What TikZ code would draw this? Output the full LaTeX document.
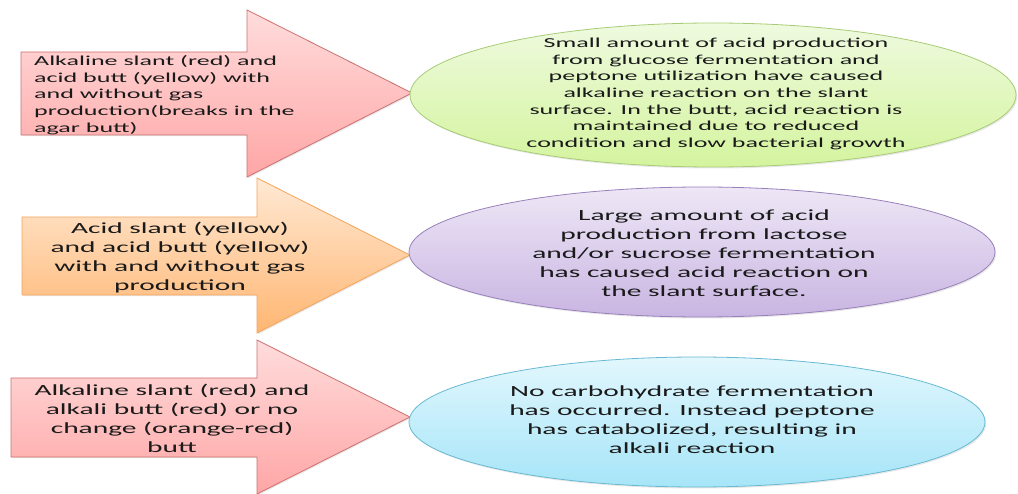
\documentclass[tikz,border=0pt]{standalone}
\usepackage{fontspec}
\setmainfont{Carlito}[FakeStretch=1.9]
\usetikzlibrary{shapes.geometric,shadows}
\definecolor{txt}{HTML}{1A1A1A}
\definecolor{pinkT}{HTML}{FFDCDC}
\definecolor{pinkB}{HTML}{FFA6A6}
\definecolor{pinkD}{HTML}{CC7070}
\definecolor{orT}{HTML}{FFE9D4}
\definecolor{orB}{HTML}{FFB672}
\definecolor{orD}{HTML}{F2A55E}
\definecolor{grT}{HTML}{EFFADF}
\definecolor{grB}{HTML}{D4F49E}
\definecolor{grD}{HTML}{A8CB76}
\definecolor{puT}{HTML}{EEE7F6}
\definecolor{puB}{HTML}{C9B5E2}
\definecolor{puD}{HTML}{9880BA}
\definecolor{blT}{HTML}{E2F7FD}
\definecolor{blB}{HTML}{A6E5F8}
\definecolor{blD}{HTML}{68BAD2}
\tikzset{
  arrowshape/.style={draw=#1D, top color=#1T, bottom color=#1B, line width=0.8pt, line join=miter,
    drop shadow={opacity=0.18, shadow xshift=1.2pt, shadow yshift=-1.2pt}},
  ellshape/.style={ellipse, draw=#1D, top color=#1T, bottom color=#1B, line width=0.8pt, inner sep=0pt,
    drop shadow={opacity=0.18, shadow xshift=1.2pt, shadow yshift=-1.5pt}},
  smalltxt/.style={text=txt, font=\fontsize{13.7}{16.7}\selectfont},
  bigtxt/.style={text=txt, font=\fontsize{15.5}{19}\selectfont},
}
\begin{document}
\begin{tikzpicture}[x=1pt,y=1pt]
\useasboundingbox (0,0) rectangle (1018,-494);
% arrows
\path[arrowshape=pink] (21,-52) -- (247,-52) -- (247,-10) -- (412,-93) -- (247,-177) -- (247,-135) -- (21,-135) -- cycle;
\path[arrowshape=or] (22,-217) -- (257,-217) -- (257,-178) -- (410,-255) -- (257,-333) -- (257,-295) -- (22,-295) -- cycle;
\path[arrowshape=pink] (11,-378) -- (257,-378) -- (257,-340) -- (410,-417) -- (257,-494) -- (257,-457) -- (11,-457) -- cycle;
% ellipses
\node[ellshape=gr, minimum width=606, minimum height=144] (e1) at (713,-95) {};
\node[ellshape=pu, minimum width=586, minimum height=130] (e2) at (702,-252) {};
\node[ellshape=bl, minimum width=576, minimum height=130] (e3) at (697,-422) {};
% arrow texts
\node[smalltxt, anchor=west, align=left, inner sep=0pt] (a1) at (34,-95)
  {Alkaline slant (red) and\\acid butt (yellow) with\\and without gas\\production(breaks in the\\agar butt)};
\node[bigtxt, align=center, inner sep=0pt] (a2) at (180,-258)
  {Acid slant (yellow)\\and acid butt (yellow)\\with and without gas\\production};
\node[bigtxt, align=center, inner sep=0pt] (a3) at (172,-418)
  {Alkaline slant (red) and\\alkali butt (red) or no\\change (orange-red)\\butt};
% ellipse texts
\node[smalltxt, align=center, inner sep=0pt] (t1) at (716,-94)
  {Small amount of acid production\\from glucose fermentation and\\peptone utilization have caused\\alkaline reaction on the slant\\surface. In the butt, acid reaction is\\maintained due to reduced\\condition and slow bacterial growth};
\node[bigtxt, align=center, inner sep=0pt] (t2) at (704,-253)
  {Large amount of acid\\production from lactose\\and/or sucrose fermentation\\has caused acid reaction on\\the slant surface.};
\node[bigtxt, align=center, inner sep=0pt] (t3) at (692,-420)
  {No carbohydrate fermentation\\has occurred. Instead peptone\\has catabolized, resulting in\\alkali reaction};
\end{tikzpicture}
\end{document}
